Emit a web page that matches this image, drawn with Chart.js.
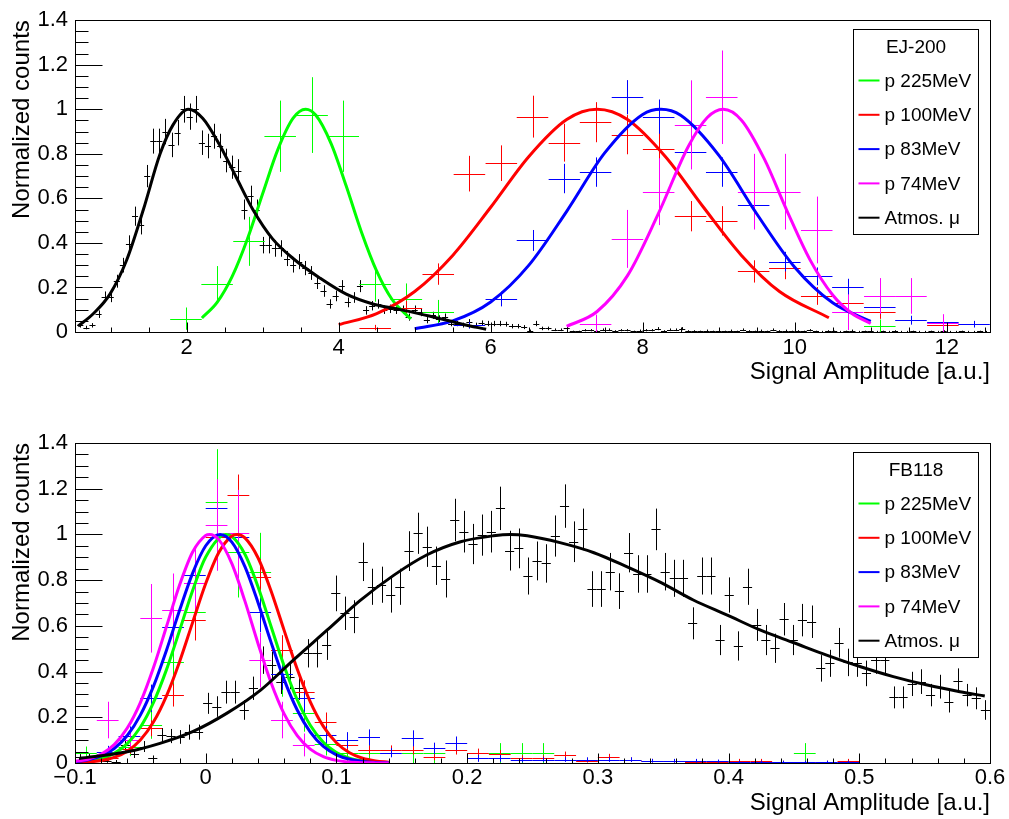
<!DOCTYPE html>
<html>
<head>
<meta charset="utf-8">
<script src="https://cdn.jsdelivr.net/npm/chart.js@4.4.1/dist/chart.umd.min.js"></script>
<style>
  html, body { margin: 0; padding: 0; background: #fff; }
  #wrap { position: relative; width: 1009px; height: 819px; }
  #top { position: absolute; left: 0; top: 0; }
  #bottom { position: absolute; left: 0; top: 410px; }
</style>
</head>
<body>
<div id="wrap">
  <canvas id="top" width="1009" height="410"></canvas>
  <canvas id="bottom" width="1009" height="409"></canvas>
</div>
<script>
// ---------- axes ----------
const countTicks = [0, 0.2, 0.4, 0.6, 0.8, 1, 1.2, 1.4];
const countLabels = ["0", "0.2", "0.4", "0.6", "0.8", "1", "1.2", "1.4"];
const ejTicks = [2, 4, 6, 8, 10, 12];
const ejLabels = ["2", "4", "6", "8", "10", "12"];
const fbTicks = [-0.1, 0, 0.1, 0.2, 0.3, 0.4, 0.5, 0.6];
const fbLabels = ["\u22120.1", "0", "0.1", "0.2", "0.3", "0.4", "0.5", "0.6"];

const seriesNames = ["p 225MeV", "p 100MeV", "p 83MeV", "p 74MeV", "Atmos. \u03bc"];
const seriesColors = ["#00ff00", "#ff0000", "#0000ff", "#ff00ff", "#000000"];

// ---------- EJ-200 (top) ----------
// atmospheric muons, bins of 0.08 starting at 0.60
const ejMuY = [
  0.03, 0.02, 0.03, 0.08, 0.158, 0.158, 0.228, 0.30, 0.396, 0.52,
  0.48, 0.70, 0.857, 0.857, 0.90, 0.84, 0.895, 1.0, 0.967, 1.0,
  0.85, 0.835, 0.879, 0.835, 0.77, 0.74, 0.725, 0.55, 0.61, 0.55,
  0.39, 0.39, 0.375, 0.375, 0.33, 0.30, 0.316, 0.287, 0.265, 0.221,
  0.184, 0.126, 0.162, 0.206, 0.133, 0.155, 0.206, 0.097, 0.118, 0.126,
  0.10, 0.104, 0.10, 0.10, 0.067, 0.10, 0.089, 0.053, 0.075, 0.06,
  0.067, 0.038, 0.038, 0.031, 0.045, 0.031, 0.04, 0.038, 0.038, 0.038,
  0.035, 0.026, 0.026, 0.022, 0.006, 0.038, 0.016, 0.016, 0.01, 0.01,
  0.02, 0.003, 0.003, 0.008, 0.008, 0.003, 0.01, 0.01, 0.004, 0.008,
  0.008, 0.003, 0.006, 0.008, 0.008, 0.015, 0.004, 0.01, 0.01, 0.015,
  0.004, 0.004, 0.003, 0.006, 0.003, 0.004, 0.003, 0.006, 0.003, 0.01,
  0.004, 0.003, 0.006, 0.003, 0.01, 0.004, 0.006, 0.003, 0.004, 0.003,
  0.008, 0.003, 0.002, 0.004, 0.003, 0.002, 0.003, 0.006, 0.002, 0.003,
  0.004, 0.002, 0.003, 0.002, 0.004, 0.002, 0.002, 0.003, 0.002, 0.002,
  0.003, 0.002, 0.004, 0.002, 0.002, 0.003, 0.002, 0.002, 0.003, 0.002
];
const ejMuErr = [
  0.01, 0.008, 0.01, 0.017, 0.024, 0.024, 0.029, 0.033, 0.038, 0.043,
  0.042, 0.05, 0.056, 0.056, 0.057, 0.055, 0.057, 0.06, 0.059, 0.06,
  0.055, 0.055, 0.056, 0.055, 0.053, 0.052, 0.051, 0.045, 0.047, 0.045,
  0.037, 0.037, 0.037, 0.037, 0.034, 0.033, 0.034, 0.032, 0.031, 0.028,
  0.026, 0.021, 0.024, 0.027, 0.022, 0.024, 0.027, 0.019, 0.021, 0.021,
  0.019, 0.019, 0.019, 0.019, 0.016, 0.019, 0.018, 0.014, 0.016, 0.015,
  0.016, 0.012, 0.012, 0.011, 0.013, 0.011, 0.012, 0.012, 0.012, 0.012,
  0.011, 0.01, 0.01, 0.009, 0.005, 0.012, 0.008, 0.008, 0.006, 0.006,
  0.009, 0.003, 0.003, 0.005, 0.005, 0.003, 0.006, 0.006, 0.004, 0.005,
  0.005, 0.003, 0.005, 0.005, 0.005, 0.007, 0.004, 0.006, 0.006, 0.007,
  0.004, 0.004, 0.003, 0.005, 0.003, 0.004, 0.003, 0.005, 0.003, 0.006,
  0.004, 0.003, 0.005, 0.003, 0.006, 0.004, 0.005, 0.003, 0.004, 0.003,
  0.005, 0.003, 0.003, 0.004, 0.003, 0.003, 0.003, 0.005, 0.003, 0.003,
  0.004, 0.003, 0.003, 0.003, 0.004, 0.003, 0.003, 0.003, 0.003, 0.003,
  0.003, 0.003, 0.004, 0.003, 0.003, 0.003, 0.003, 0.003, 0.003, 0.003
];
const ejMuX = ejMuY.map((_, i) => 0.60 + 0.08 * i);

const ej225X = [1.99, 2.40, 2.82, 3.23, 3.65, 4.06, 4.48, 4.89, 5.31, 11.12];
const ej225Y = [0.06, 0.216, 0.407, 0.879, 0.974, 0.879, 0.216, 0.148, 0.089, 0.026];
const ej225Err = [0.05, 0.08, 0.11, 0.16, 0.17, 0.16, 0.08, 0.07, 0.055, 0.03];

const ej100X = [4.48, 4.89, 5.31, 5.72, 6.14, 6.55, 6.97, 7.38, 7.80, 8.21, 8.63, 9.04, 9.46, 9.87, 10.29, 10.70, 11.12, 11.95];
const ej100Y = [0.02, 0.11, 0.26, 0.711, 0.758, 0.967, 0.85, 0.942, 0.886, 0.82, 0.52, 0.499, 0.272, 0.287, 0.162, 0.129, 0.089, 0.03];
const ej100Err = [0.012, 0.03, 0.048, 0.08, 0.08, 0.094, 0.085, 0.09, 0.088, 0.08, 0.068, 0.066, 0.05, 0.05, 0.04, 0.037, 0.03, 0.018];

const ej83X = [1.20, 1.61, 2.82, 3.23, 4.06, 4.89, 5.31, 5.72, 6.14, 6.55, 6.97, 7.38, 7.80, 8.21, 8.63, 9.04, 9.46, 9.87, 10.29, 10.70, 11.12, 11.53, 11.95, 12.36];
const ej83Y = [0, 0, 0, 0, 0, 0, 0, 0.03, 0.148, 0.411, 0.689, 0.718, 1.054, 0.967, 0.806, 0.718, 0.572, 0.316, 0.25, 0.202, 0.111, 0.053, 0.045, 0.035];
const ej83Err = [0, 0, 0, 0, 0, 0, 0, 0.015, 0.033, 0.047, 0.066, 0.066, 0.077, 0.077, 0.07, 0.066, 0.058, 0.044, 0.04, 0.037, 0.03, 0.02, 0.02, 0.015];

const ej74X = [7.38, 7.80, 8.21, 8.63, 9.04, 9.46, 9.87, 10.29, 10.70, 11.12, 11.53, 11.95];
const ej74Y = [0.038, 0.418, 0.63, 0.93, 1.054, 0.63, 0.63, 0.458, 0.089, 0.162, 0.162, 0.04];
const ej74Err = [0.04, 0.13, 0.15, 0.2, 0.21, 0.17, 0.17, 0.15, 0.08, 0.08, 0.08, 0.04];

// fitted curves
const ejMuFitX = [0.57, 0.77, 0.99, 1.21, 1.43, 1.65, 1.82, 2.02, 2.21, 2.43, 2.65, 2.87, 3.13, 3.40, 3.75, 4.10, 4.45, 4.76, 5.19, 5.63, 5.94];
const ejMuFitY = [0.026, 0.082, 0.170, 0.323, 0.55, 0.80, 0.93, 1.0, 0.96, 0.842, 0.696, 0.55, 0.418, 0.33, 0.243, 0.17, 0.126, 0.104, 0.072, 0.035, 0.012];
const ej225FitX = [2.2, 2.4, 2.6, 2.8, 3.0, 3.2, 3.4, 3.565, 3.7, 3.9, 4.1, 4.3, 4.5, 4.7, 4.95];
const ej225FitY = [0.063, 0.133, 0.251, 0.419, 0.622, 0.820, 0.960, 1, 0.973, 0.846, 0.654, 0.448, 0.273, 0.147, 0.058];
const ej100FitX = [4.0, 4.5, 5.0, 5.5, 6.0, 6.5, 7.0, 7.4, 7.8, 8.3, 8.8, 9.3, 9.8, 10.45];
const ej100FitY = [0.033, 0.083, 0.182, 0.344, 0.560, 0.787, 0.954, 1, 0.954, 0.787, 0.560, 0.344, 0.182, 0.064];
const ej83FitX = [5.0, 5.5, 6.0, 6.5, 7.0, 7.5, 8.0, 8.24, 8.5, 9.0, 9.5, 10.0, 10.5, 11.0];
const ej83FitY = [0.015, 0.050, 0.135, 0.299, 0.542, 0.804, 0.977, 1, 0.973, 0.794, 0.531, 0.291, 0.131, 0.048];
const ej74FitX = [7.0, 7.4, 7.8, 8.2, 8.6, 8.85, 9.06, 9.3, 9.6, 9.9, 10.2, 10.5, 10.75, 11.0];
const ej74FitY = [0.025, 0.092, 0.253, 0.527, 0.833, 0.963, 1, 0.951, 0.777, 0.543, 0.325, 0.166, 0.084, 0.038];

// ---------- FB118 (bottom) ----------
// atmospheric muons, 100 bins between -0.1 and 0.6
const fbMuY = [
  0.025, 0.028, 0.02, 0.01, 0.006, 0.079, 0.04, 0.072, 0.02, 0.122,
  0.118, 0.114, 0.135, 0.135, 0.261, 0.247, 0.31, 0.31, 0.232, 0.327,
  0.45, 0.429, 0.356, 0.378, 0.327, 0.48, 0.48, 0.516, 0.742, 0.655,
  0.64, 0.88, 0.771, 0.78, 0.735, 0.771, 0.927, 1.005, 0.946, 0.863,
  0.805, 1.063, 1.012, 0.958, 0.997, 1.012, 1.114, 0.929, 0.939, 0.818,
  0.884, 0.873, 0.993, 1.124, 0.968, 1.022, 0.761, 0.761, 0.837, 0.752,
  0.92, 0.827, 0.827, 1.022, 0.837, 0.808, 0.808, 0.611, 0.818, 0.818,
  0.538, 0.735, 0.512, 0.771, 0.604, 0.538, 0.502, 0.629, 0.538, 0.625,
  0.618, 0.414, 0.436, 0.526, 0.44, 0.436, 0.392, 0.45, 0.45, 0.287,
  0.287, 0.346, 0.356, 0.297, 0.334, 0.268, 0.36, 0.297, 0.283, 0.232
];
const fbMuErr = [
  0.014, 0.015, 0.013, 0.009, 0.007, 0.025, 0.018, 0.024, 0.013, 0.031,
  0.031, 0.03, 0.033, 0.033, 0.046, 0.045, 0.05, 0.05, 0.043, 0.051,
  0.06, 0.059, 0.054, 0.055, 0.051, 0.062, 0.062, 0.065, 0.078, 0.073,
  0.072, 0.084, 0.079, 0.079, 0.077, 0.079, 0.087, 0.09, 0.088, 0.084,
  0.081, 0.093, 0.091, 0.088, 0.09, 0.091, 0.095, 0.087, 0.087, 0.081,
  0.085, 0.084, 0.09, 0.095, 0.089, 0.091, 0.078, 0.078, 0.082, 0.078,
  0.086, 0.082, 0.082, 0.091, 0.082, 0.081, 0.081, 0.07, 0.081, 0.081,
  0.066, 0.077, 0.064, 0.079, 0.07, 0.066, 0.064, 0.071, 0.066, 0.071,
  0.071, 0.058, 0.059, 0.065, 0.06, 0.059, 0.056, 0.06, 0.06, 0.048,
  0.048, 0.053, 0.054, 0.049, 0.052, 0.047, 0.054, 0.049, 0.048, 0.043
];
const fbMuX = fbMuY.map((_, i) => -0.0965 + 0.007 * i);

const fb225X = [-0.0917, -0.075, -0.0583, -0.0417, -0.025, -0.0083, 0.0083, 0.025, 0.0417, 0.0583, 0.075, 0.0917, 0.1083, 0.125, 0.1583, 0.175, 0.225, 0.2417, 0.2583, 0.4583];
const fb225Y = [0.042, 0.04, 0.07, 0.166, 0.443, 0.662, 1.143, 0.924, 0.837, 0.39, 0.217, 0.083, 0.042, 0.045, 0.042, 0.042, 0.042, 0.042, 0.042, 0.042];
const fb225Err = [0.03, 0.03, 0.04, 0.06, 0.1, 0.12, 0.23, 0.2, 0.17, 0.1, 0.08, 0.05, 0.04, 0.04, 0.045, 0.045, 0.045, 0.045, 0.045, 0.045];

const fb100X = [-0.0917, -0.075, -0.0583, -0.0417, -0.025, -0.0083, 0.0083, 0.025, 0.0417, 0.0583, 0.075, 0.0917, 0.1083, 0.125, 0.1417, 0.1583, 0.175, 0.1917, 0.2083, 0.225, 0.2417, 0.2583, 0.275, 0.2917, 0.3083, 0.325, 0.3417, 0.3583, 0.375, 0.3917, 0.4083, 0.425, 0.4417, 0.4583, 0.475, 0.4917];
const fb100Y = [0.01, 0.02, 0.06, 0.152, 0.297, 0.626, 0.99, 1.172, 0.812, 0.494, 0.312, 0.181, 0.079, 0.057, 0.057, 0.057, 0.025, 0.057, 0.045, 0.04, 0.022, 0.022, 0.035, 0.01, 0.028, 0.015, 0.01, 0.007, 0.005, 0.005, 0.01, 0.01, 0.005, 0.005, 0.005, 0.01];
const fb100Err = [0.008, 0.012, 0.02, 0.035, 0.05, 0.09, 0.08, 0.09, 0.08, 0.065, 0.05, 0.04, 0.025, 0.02, 0.02, 0.02, 0.013, 0.02, 0.018, 0.017, 0.012, 0.012, 0.015, 0.008, 0.012, 0.009, 0.008, 0.006, 0.005, 0.005, 0.008, 0.008, 0.005, 0.005, 0.005, 0.008];

const fb83X = [-0.0917, -0.075, -0.0583, -0.0417, -0.025, -0.0083, 0.0083, 0.025, 0.0417, 0.0583, 0.075, 0.0917, 0.1083, 0.125, 0.1417, 0.1583, 0.175, 0.1917, 0.2083, 0.225, 0.2417, 0.2583, 0.275, 0.2917, 0.3083, 0.325, 0.3417, 0.3583, 0.375, 0.3917, 0.4083, 0.425, 0.4417, 0.4583, 0.475, 0.4917];
const fb83Y = [0.01, 0.05, 0.12, 0.283, 0.596, 0.822, 1.114, 0.99, 0.662, 0.39, 0.283, 0.122, 0.10, 0.112, 0.045, 0.108, 0.064, 0.086, 0.02, 0.02, 0.013, 0.015, 0.015, 0.015, 0.015, 0.015, 0.01, 0.01, 0.01, 0.008, 0.005, 0.005, 0.005, 0.005, 0.005, 0.005];
const fb83Err = [0.01, 0.025, 0.04, 0.06, 0.085, 0.1, 0.12, 0.11, 0.09, 0.07, 0.06, 0.04, 0.035, 0.035, 0.02, 0.035, 0.025, 0.03, 0.015, 0.015, 0.01, 0.01, 0.01, 0.01, 0.01, 0.01, 0.008, 0.008, 0.008, 0.007, 0.005, 0.005, 0.005, 0.005, 0.005, 0.005];

const fb74X = [-0.0917, -0.075, -0.0583, -0.0417, -0.025, -0.0083, 0.0083, 0.025, 0.0417, 0.0583, 0.075];
const fb74Y = [0.01, 0.188, 0.10, 0.633, 0.669, 0.786, 1.041, 1.005, 0.45, 0.188, 0.079];
const fb74Err = [0.01, 0.08, 0.05, 0.15, 0.16, 0.15, 0.2, 0.19, 0.12, 0.08, 0.05];

// fitted curves
const fbMuFitX = [-0.097, -0.06, -0.035, -0.01, 0.016, 0.042, 0.067, 0.093, 0.118, 0.144, 0.169, 0.195, 0.22, 0.233, 0.246, 0.271, 0.297, 0.322, 0.348, 0.373, 0.399, 0.424, 0.45, 0.475, 0.501, 0.526, 0.552, 0.577, 0.596];
const fbMuFitY = [0.02, 0.049, 0.086, 0.137, 0.217, 0.319, 0.45, 0.582, 0.71, 0.822, 0.91, 0.968, 0.994, 1.0, 0.994, 0.964, 0.92, 0.859, 0.79, 0.713, 0.647, 0.582, 0.526, 0.472, 0.421, 0.378, 0.341, 0.312, 0.293];
const fb225FitX = [-0.10, -0.09, -0.08, -0.07, -0.06, -0.05, -0.04, -0.03, -0.02, -0.01, 0.0, 0.0155, 0.02, 0.03, 0.04, 0.05, 0.06, 0.07, 0.08, 0.09, 0.10, 0.11, 0.12, 0.13, 0.14];
const fb225FitY = [0.0031, 0.0081, 0.0194, 0.0423, 0.0850, 0.1563, 0.2639, 0.4085, 0.5798, 0.7549, 0.9013, 1, 0.9913, 0.9131, 0.7713, 0.5976, 0.4246, 0.2767, 0.1654, 0.0907, 0.0456, 0.0210, 0.0089, 0.0035, 0.0012];
const fb100FitX = [-0.10, -0.09, -0.08, -0.07, -0.06, -0.05, -0.04, -0.03, -0.02, -0.01, 0.0, 0.01, 0.02, 0.024, 0.03, 0.04, 0.05, 0.06, 0.07, 0.08, 0.09, 0.10, 0.11, 0.12, 0.13, 0.14];
const fb100FitY = [0.0016, 0.0043, 0.0106, 0.0244, 0.0516, 0.1003, 0.1790, 0.2938, 0.4434, 0.6153, 0.7851, 0.9210, 0.9933, 1, 0.9850, 0.8981, 0.7528, 0.5802, 0.4111, 0.2678, 0.1604, 0.0884, 0.0447, 0.0208, 0.0089, 0.0035];
const fb83FitX = [-0.10, -0.09, -0.08, -0.07, -0.06, -0.05, -0.04, -0.03, -0.02, -0.01, 0.0, 0.011, 0.02, 0.03, 0.04, 0.05, 0.06, 0.07, 0.08, 0.09, 0.10, 0.11, 0.12, 0.13, 0.14];
const fb83FitY = [0.0057, 0.0138, 0.0308, 0.0635, 0.1203, 0.2095, 0.3353, 0.4935, 0.6679, 0.8309, 0.9504, 1, 0.9666, 0.8593, 0.7024, 0.5278, 0.3647, 0.2317, 0.1353, 0.0727, 0.0359, 0.0163, 0.0068, 0.0026, 0.0009];
const fb74FitX = [-0.10, -0.09, -0.08, -0.07, -0.06, -0.05, -0.04, -0.03, -0.02, -0.01, 0.0, 0.003, 0.01, 0.02, 0.03, 0.04, 0.05, 0.06, 0.07, 0.08, 0.09, 0.10, 0.11, 0.12, 0.13, 0.14];
const fb74FitY = [0.0066, 0.0167, 0.0383, 0.0802, 0.1528, 0.2645, 0.4167, 0.5972, 0.7785, 0.9231, 0.9957, 1, 0.9771, 0.8721, 0.7081, 0.5231, 0.3514, 0.2148, 0.1194, 0.0604, 0.0278, 0.0116, 0.0044, 0.0015, 0.0005, 0.0001];

// ---------- helpers ----------
const FONT = '"Liberation Sans", Arial, Helvetica, sans-serif';
Chart.defaults.font.family = FONT;
Chart.defaults.color = "#000";

const pairs = (xs, ys) => ys.map((y, i) => ({ x: xs[i], y }));

// data with error crosses, the crosses are drawn by the errorCross plugin
function pointsSet(label, color, xs, ys, errs, halfBin) {
  return {
    label, data: pairs(xs, ys), borderColor: color, backgroundColor: color,
    pointRadius: 0, showLine: false, errX: halfBin, errY: errs, order: 10
  };
}

function fitSet(label, color, xs, ys, order) {
  return {
    label, data: pairs(xs, ys), borderColor: color, borderWidth: 3,
    pointRadius: 0, showLine: true, fill: false,
    cubicInterpolationMode: "monotone", order
  };
}

const errorCross = {
  id: "errorCross",
  beforeDatasetsDraw(chart) {
    const { ctx, chartArea: a, scales: { x, y } } = chart;
    ctx.save();
    ctx.beginPath();
    ctx.rect(a.left, a.top, a.right - a.left, a.bottom - a.top);
    ctx.clip();
    ctx.lineWidth = 1;
    chart.data.datasets.forEach((ds, i) => {
      if (!ds.errY) return;
      const meta = chart.getDatasetMeta(i);
      ctx.strokeStyle = ds.borderColor;
      ctx.beginPath();
      meta.data.forEach((pt, j) => {
        const d = ds.data[j];
        const py = Math.round(pt.y) + 0.5;
        const px = Math.round(pt.x) + 0.5;
        ctx.moveTo(x.getPixelForValue(d.x - ds.errX), py);
        ctx.lineTo(x.getPixelForValue(d.x + ds.errX), py);
        if (ds.errY[j] > 0) {
          ctx.moveTo(px, y.getPixelForValue(d.y - ds.errY[j]));
          ctx.lineTo(px, y.getPixelForValue(d.y + ds.errY[j]));
        }
      });
      ctx.stroke();
    });
    ctx.restore();
  }
};

// ROOT style frame with ticks pointing inwards
const rootFrame = {
  id: "rootFrame",
  afterDatasetsDraw(chart, args, opts) {
    const { ctx, chartArea: a, scales: { x, y } } = chart;
    const L = Math.round(a.left) + 0.5, R = Math.round(a.right) + 0.5;
    const T = Math.round(a.top) + 0.5, B = Math.round(a.bottom) + 0.5;
    const isMajor = (v, step) => Math.abs(v / step - Math.round(v / step)) < 1e-6;
    ctx.save();
    ctx.strokeStyle = "#000";
    ctx.lineWidth = 1;
    ctx.beginPath();
    for (let k = Math.ceil(y.min / opts.yMinor - 1e-6); k * opts.yMinor <= y.max + 1e-9; k++) {
      const v = k * opts.yMinor;
      const py = Math.round(y.getPixelForValue(v)) + 0.5;
      ctx.moveTo(L, py);
      ctx.lineTo(L + (isMajor(v, opts.yMajor) ? 27 : 13), py);
    }
    for (let k = Math.ceil(x.min / opts.xMinor - 1e-6); k * opts.xMinor <= x.max + 1e-9; k++) {
      const v = k * opts.xMinor;
      const px = Math.round(x.getPixelForValue(v)) + 0.5;
      ctx.moveTo(px, B);
      ctx.lineTo(px, B - (isMajor(v, opts.xMajor) ? 10 : 5));
    }
    ctx.stroke();
    ctx.strokeRect(L, T, R - L, B - T);
    ctx.restore();
  }
};

// ROOT style legend box, top right inside the frame
const rootLegend = {
  id: "rootLegend",
  afterDraw(chart, args, opts) {
    const { ctx, chartArea: a } = chart;
    const left = Math.round(a.right) - 137 + 0.5, top = Math.round(a.top) + 9 + 0.5;
    const w = 125, h = 205;
    ctx.save();
    ctx.fillStyle = "#fff";
    ctx.fillRect(left, top, w, h);
    ctx.strokeStyle = "#000";
    ctx.lineWidth = 1;
    ctx.strokeRect(left, top, w, h);
    ctx.fillStyle = "#000";
    ctx.font = "19px " + FONT;
    ctx.textBaseline = "middle";
    ctx.textAlign = "center";
    ctx.fillText(opts.title, left + w / 2, top + 18);
    ctx.textAlign = "left";
    seriesNames.forEach((name, i) => {
      const yy = top + 51 + i * 34.3;
      ctx.strokeStyle = seriesColors[i];
      ctx.lineWidth = 2;
      ctx.beginPath();
      ctx.moveTo(left + 5, yy);
      ctx.lineTo(left + 26, yy);
      ctx.stroke();
      ctx.fillStyle = "#000";
      ctx.fillText(name, left + 31, yy + 1);
    });
    ctx.restore();
  }
};

function makePanel(canvasId, cfg) {
  return new Chart(document.getElementById(canvasId), {
    type: "scatter",
    data: { datasets: cfg.datasets },
    plugins: [errorCross, rootFrame, rootLegend],
    options: {
      responsive: false,
      animation: false,
      devicePixelRatio: 1,
      layout: { padding: { top: cfg.padTop, right: 19, left: 0, bottom: 0 } },
      plugins: {
        legend: { display: false },
        tooltip: { enabled: false },
        rootFrame: cfg.frame,
        rootLegend: { title: cfg.title }
      },
      scales: {
        x: {
          type: "linear", min: cfg.xMin, max: cfg.xMax,
          afterBuildTicks: s => { s.ticks = cfg.xTicks.map(v => ({ value: v })); },
          afterFit: s => { s.height = cfg.xHeight; },
          ticks: { callback: (v, i) => cfg.xLabels[i], font: { size: 22 }, padding: cfg.xLabelPad, maxRotation: 0, autoSkip: false },
          grid: { display: false, drawTicks: false },
          border: { display: false },
          title: { display: true, text: "Signal Amplitude [a.u.]", align: "end", font: { size: 24 }, padding: { top: 0, bottom: cfg.xTitlePad } }
        },
        y: {
          type: "linear", min: 0, max: 1.4,
          afterBuildTicks: s => { s.ticks = countTicks.map(v => ({ value: v })); },
          afterFit: s => { s.width = 75; },
          ticks: { callback: (v, i) => countLabels[i], font: { size: 22 }, padding: 7, autoSkip: false },
          grid: { display: false, drawTicks: false },
          border: { display: false },
          title: { display: true, text: "Normalized counts", align: "end", font: { size: 24 }, padding: { top: 8, bottom: 0 } }
        }
      }
    }
  });
}

makePanel("top", {
  title: "EJ-200",
  padTop: 13, xHeight: 78, xLabelPad: 3, xTitlePad: 23,
  xMin: 0.53, xMax: 12.57, xTicks: ejTicks, xLabels: ejLabels,
  frame: { xMajor: 2, xMinor: 0.5, yMajor: 0.2, yMinor: 0.05 },
  datasets: [
    fitSet(seriesNames[4], seriesColors[4], ejMuFitX, ejMuFitY, 0),
    fitSet(seriesNames[3], seriesColors[3], ej74FitX, ej74FitY, 1),
    fitSet(seriesNames[2], seriesColors[2], ej83FitX, ej83FitY, 2),
    fitSet(seriesNames[1], seriesColors[1], ej100FitX, ej100FitY, 3),
    fitSet(seriesNames[0], seriesColors[0], ej225FitX, ej225FitY, 4),
    pointsSet(seriesNames[4], seriesColors[4], ejMuX, ejMuY, ejMuErr, 0.04),
    pointsSet(seriesNames[0], seriesColors[0], ej225X, ej225Y, ej225Err, 0.2075),
    pointsSet(seriesNames[1], seriesColors[1], ej100X, ej100Y, ej100Err, 0.2075),
    pointsSet(seriesNames[2], seriesColors[2], ej83X, ej83Y, ej83Err, 0.2075),
    pointsSet(seriesNames[3], seriesColors[3], ej74X, ej74Y, ej74Err, 0.2075)
  ]
});

makePanel("bottom", {
  title: "FB118",
  padTop: 33, xHeight: 56, xLabelPad: 2, xTitlePad: 1,
  xMin: -0.1, xMax: 0.6, xTicks: fbTicks, xLabels: fbLabels,
  frame: { xMajor: 0.1, xMinor: 0.02, yMajor: 0.2, yMinor: 0.05 },
  datasets: [
    fitSet(seriesNames[4], seriesColors[4], fbMuFitX, fbMuFitY, 0),
    fitSet(seriesNames[3], seriesColors[3], fb74FitX, fb74FitY, 1),
    fitSet(seriesNames[2], seriesColors[2], fb83FitX, fb83FitY, 2),
    fitSet(seriesNames[1], seriesColors[1], fb100FitX, fb100FitY, 3),
    fitSet(seriesNames[0], seriesColors[0], fb225FitX, fb225FitY, 4),
    pointsSet(seriesNames[4], seriesColors[4], fbMuX, fbMuY, fbMuErr, 0.0035),
    pointsSet(seriesNames[0], seriesColors[0], fb225X, fb225Y, fb225Err, 0.00833),
    pointsSet(seriesNames[1], seriesColors[1], fb100X, fb100Y, fb100Err, 0.00833),
    pointsSet(seriesNames[2], seriesColors[2], fb83X, fb83Y, fb83Err, 0.00833),
    pointsSet(seriesNames[3], seriesColors[3], fb74X, fb74Y, fb74Err, 0.00833)
  ]
});
</script>
</body>
</html>
